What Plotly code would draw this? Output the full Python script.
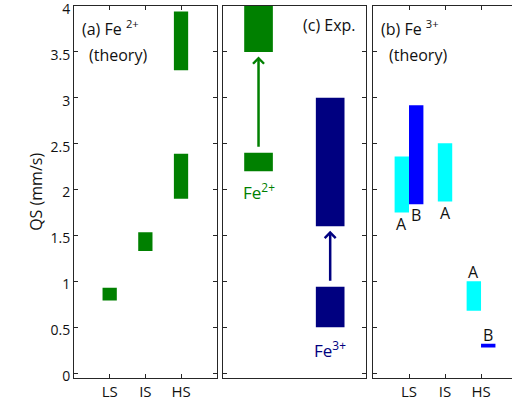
import plotly.graph_objects as go

# ---------------- data ----------------
spin_states = ["LS", "IS", "HS"]
spin_pos = [1, 2, 3]
y_ticks = [0, 0.5, 1, 1.5, 2, 2.5, 3, 3.5, 4]
y_ticktext = ["0", "0.5", "1", "1.5", "2", "2.5", "3", "3.5", "4"]

# (a) Fe2+ theory: QS ranges (low, high)
fe2_x = [1, 2, 3, 3]
fe2_low = [0.79, 1.33, 1.90, 3.30]
fe2_high = [0.93, 1.535, 2.39, 3.94]

# (c) experiment
exp_fe2_x = [1, 1]
exp_fe2_low = [2.20, 3.50]
exp_fe2_high = [2.40, 4.00]
exp_fe3_x = [3, 3]
exp_fe3_low = [0.50, 1.60]
exp_fe3_high = [0.94, 3.00]

# (b) Fe3+ theory, site A and site B
fe3A_x = [1, 2, 3]
fe3A_low = [1.75, 1.87, 0.68]
fe3A_high = [2.36, 2.505, 1.00]
fe3B_x = [1, 3]
fe3B_low = [1.84, 0.28]
fe3B_high = [2.92, 0.32]

GREEN = "#008000"
NAVY = "#000080"
CYAN = "#00FFFF"
BLUE = "#0000FF"
FONT = "Open Sans"
LINE = "#262626"
TXT = "#111111"

fig = go.Figure()

def add_bars(x, low, high, color, xa, ya, width=0.4, offset=None):
    fig.add_trace(go.Bar(
        x=x, base=low, y=[h - l for l, h in zip(low, high)],
        width=width, offset=offset, marker=dict(color=color, line=dict(width=0)),
        xaxis=xa, yaxis=ya, showlegend=False, hoverinfo="skip", cliponaxis=True))

add_bars(fe2_x, fe2_low, fe2_high, GREEN, "x", "y")
add_bars(exp_fe2_x, exp_fe2_low, exp_fe2_high, GREEN, "x2", "y2", width=0.8)
add_bars(exp_fe3_x, exp_fe3_low, exp_fe3_high, NAVY, "x2", "y2", width=0.8)
add_bars(fe3A_x, fe3A_low, fe3A_high, CYAN, "x3", "y3", width=0.4, offset=[-0.4, -0.2, -0.4])
add_bars(fe3B_x, fe3B_low, fe3B_high, BLUE, "x3", "y3", width=0.4, offset=[0, 0])

yr = [-0.05, 4.0005]
common_y = dict(range=yr, tickvals=y_ticks, ticktext=y_ticktext, ticks="inside", ticklen=4,
                tickcolor=LINE, showline=True, linecolor=LINE, linewidth=1, showgrid=False,
                zeroline=False, tickfont=dict(family=FONT, size=14, color=TXT),
                automargin=False, ticklabeloverflow="allow", ticklabelshift=3)
common_x = dict(showline=True, linecolor=LINE, linewidth=1, showgrid=False, zeroline=False,
                tickfont=dict(family=FONT, size=15, color=TXT), automargin=False,
                ticklabeloverflow="allow")

W, H = 512, 414
ydom = [1 - 377.7 / H, 1 - 6 / H]
fig.update_layout(
    width=W, height=H, margin=dict(l=0, r=0, t=0, b=0),
    paper_bgcolor="white", plot_bgcolor="white", barmode="overlay",
    xaxis=dict(domain=[74 / W, 216.7 / W], range=[0, 4], tickvals=spin_pos, ticktext=spin_states,
               ticks="inside", ticklen=4, tickcolor=LINE, mirror="ticks", anchor="y",
               ticklabelstandoff=0, **common_x),
    yaxis=dict(domain=ydom, anchor="x", mirror="ticks",
               title=dict(text="QS (mm/s)", font=dict(family=FONT, size=16, color=TXT), standoff=3),
               **common_y),
    xaxis2=dict(domain=[222.7 / W, 366 / W], range=[0, 4], showticklabels=False, ticks="",
                mirror=True, anchor="y2", **common_x),
    yaxis2=dict(domain=ydom, anchor="x2", mirror="ticks", showticklabels=False, **common_y),
    xaxis3=dict(domain=[373 / W, 1.0], range=[0, 3.86], tickvals=spin_pos, ticktext=spin_states,
                ticks="inside", ticklen=4, tickcolor=LINE, mirror="ticks", anchor="y3",
                ticklabelstandoff=0, **common_x),
    yaxis3=dict(domain=ydom, anchor="x3", mirror=False, showticklabels=False, **common_y),
)

TF = dict(family=FONT, size=16, color=TXT)
ann = []
# panel titles
ann.append(dict(text="(a) Fe <sup>2+</sup>", x=0.18, y=3.76, xref="x", yref="y", xanchor="left",
                showarrow=False, font=TF))
ann.append(dict(text="(theory)", x=0.36, y=3.47, xref="x", yref="y", xanchor="left",
                showarrow=False, font=TF))
ann.append(dict(text="(c) Exp.", x=3.78, y=3.79, xref="x2", yref="y2", xanchor="right",
                showarrow=False, font=TF))
ann.append(dict(text="(b) Fe <sup>3+</sup>", x=0.18, y=3.76, xref="x3", yref="y3", xanchor="left",
                showarrow=False, font=TF))
ann.append(dict(text="(theory)", x=0.38, y=3.47, xref="x3", yref="y3", xanchor="left",
                showarrow=False, font=TF))
# experimental labels
ann.append(dict(text="Fe<sup>2+</sup>", x=exp_fe2_x[0], y=exp_fe2_low[0] - 0.22, xref="x2", yref="y2",
                showarrow=False, font=dict(family=FONT, size=17, color=GREEN)))
ann.append(dict(text="Fe<sup>3+</sup>", x=exp_fe3_x[0], y=exp_fe3_low[0] - 0.24, xref="x2", yref="y2",
                showarrow=False, font=dict(family=FONT, size=17, color=NAVY)))
# arrows
ann.append(dict(x=exp_fe2_x[0], y=exp_fe2_low[1] - 0.05, ax=exp_fe2_x[0], ay=exp_fe2_high[0] + 0.05,
                xref="x2", yref="y2", axref="x2", ayref="y2", text="", showarrow=True,
                arrowhead=4, arrowsize=0.85, arrowwidth=2.5, arrowcolor=GREEN, standoff=0))
ann.append(dict(x=exp_fe3_x[0], y=exp_fe3_low[1] - 0.05, ax=exp_fe3_x[0], ay=exp_fe3_high[0] + 0.05,
                xref="x2", yref="y2", axref="x2", ayref="y2", text="", showarrow=True,
                arrowhead=4, arrowsize=0.85, arrowwidth=2.5, arrowcolor=NAVY, standoff=0))
# A/B labels for Fe3+ theory
labA = [(fe3A_x[0] - 0.2, fe3A_low[0] - 0.12), (fe3A_x[1], fe3A_low[1] - 0.12), (fe3A_x[2] - 0.2, fe3A_high[2] + 0.1)]
labB = [(fe3B_x[0] + 0.2, fe3B_low[0] - 0.12), (fe3B_x[1] + 0.2, fe3B_high[1] + 0.1)]
for (lx, ly) in labA:
    ann.append(dict(text="A", x=lx, y=ly, xref="x3", yref="y3", showarrow=False, font=TF))
for (lx, ly) in labB:
    ann.append(dict(text="B", x=lx, y=ly, xref="x3", yref="y3", showarrow=False, font=TF))
fig.update_layout(annotations=ann)

fig.write_html("out.html")
